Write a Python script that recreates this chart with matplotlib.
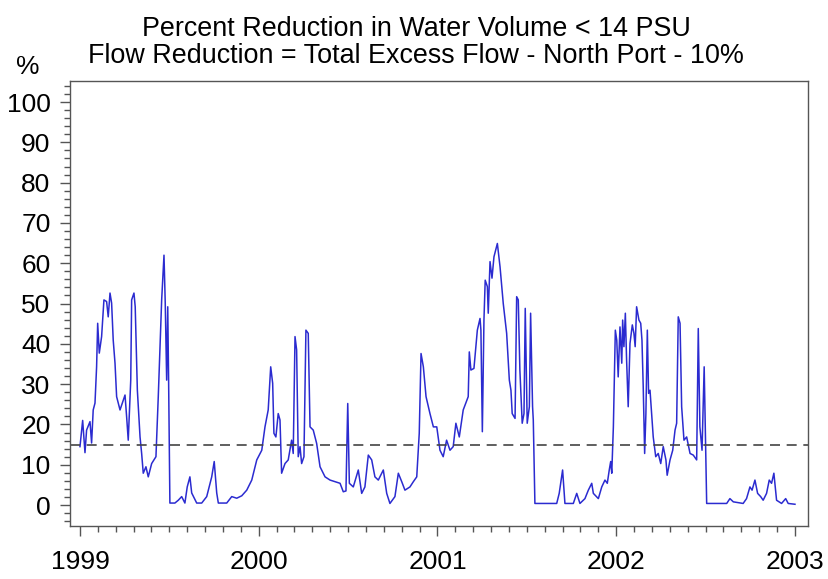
import matplotlib.pyplot as plt
import numpy as np
from matplotlib.ticker import MultipleLocator

plt.rcParams['font.family'] = ['Liberation Sans', 'DejaVu Sans']

# time in decimal years, value in percent
t = [1999.000, 1999.015, 1999.028, 1999.037, 1999.056, 1999.065, 1999.074, 1999.084,
     1999.093, 1999.099, 1999.108, 1999.121, 1999.134, 1999.149, 1999.158, 1999.168,
     1999.177, 1999.186, 1999.196, 1999.205, 1999.224, 1999.233, 1999.252, 1999.261,
     1999.270, 1999.284, 1999.289, 1999.302, 1999.309, 1999.321, 1999.336, 1999.345,
     1999.354, 1999.369, 1999.382, 1999.401, 1999.425, 1999.438, 1999.457, 1999.470,
     1999.477, 1999.485, 1999.491, 1999.496, 1999.503, 1999.531, 1999.550, 1999.569,
     1999.587, 1999.600, 1999.615, 1999.625, 1999.653, 1999.681, 1999.709, 1999.737,
     1999.751, 1999.765, 1999.774, 1999.821, 1999.849, 1999.877, 1999.905, 1999.933,
     1999.961, 1999.989,
     2000.017, 2000.035, 2000.053, 2000.067, 2000.078, 2000.085, 2000.096, 2000.109,
     2000.119, 2000.128, 2000.147, 2000.165, 2000.184, 2000.193, 2000.203, 2000.212,
     2000.221, 2000.231, 2000.240, 2000.253, 2000.264, 2000.277, 2000.287, 2000.305,
     2000.324, 2000.343, 2000.371, 2000.399, 2000.427, 2000.455, 2000.473, 2000.488,
     2000.498, 2000.507, 2000.529, 2000.557, 2000.576, 2000.594, 2000.613, 2000.632,
     2000.650, 2000.669, 2000.697, 2000.716, 2000.734, 2000.762, 2000.781, 2000.800,
     2000.818, 2000.846, 2000.865, 2000.884, 2000.898, 2000.908, 2000.921, 2000.936,
     2000.958, 2000.977, 2000.996,
     2001.014, 2001.032, 2001.051, 2001.070, 2001.088, 2001.103, 2001.122, 2001.144,
     2001.172, 2001.178, 2001.187, 2001.204, 2001.223, 2001.238, 2001.243, 2001.251,
     2001.260, 2001.267, 2001.279, 2001.284, 2001.294, 2001.305, 2001.316, 2001.335,
     2001.350, 2001.368, 2001.387, 2001.402, 2001.411, 2001.418, 2001.434, 2001.443,
     2001.452, 2001.461, 2001.474, 2001.484, 2001.491, 2001.502, 2001.514, 2001.521,
     2001.532, 2001.536, 2001.545, 2001.592, 2001.667, 2001.681, 2001.700, 2001.713,
     2001.760, 2001.779, 2001.797, 2001.825, 2001.844, 2001.863, 2001.872, 2001.900,
     2001.919, 2001.937, 2001.950, 2001.961, 2001.969, 2001.975, 2001.984, 2001.995,
     2002.003, 2002.011, 2002.021, 2002.031, 2002.036, 2002.043, 2002.051, 2002.058,
     2002.067, 2002.077, 2002.090, 2002.099, 2002.106, 2002.114, 2002.127, 2002.137,
     2002.144, 2002.151, 2002.159, 2002.166, 2002.174, 2002.181, 2002.189, 2002.198,
     2002.207, 2002.221, 2002.235, 2002.249, 2002.263, 2002.278, 2002.285, 2002.301,
     2002.316, 2002.329, 2002.338, 2002.347, 2002.357, 2002.366, 2002.379, 2002.394,
     2002.413, 2002.431, 2002.450, 2002.459, 2002.468, 2002.480, 2002.492, 2002.500,
     2002.506, 2002.562, 2002.618, 2002.636, 2002.655, 2002.710, 2002.729, 2002.748,
     2002.760, 2002.776, 2002.791, 2002.808, 2002.822, 2002.841, 2002.856, 2002.869,
     2002.882, 2002.897, 2002.925, 2002.948, 2002.962, 2003.000]

pct = [14.5, 21.0, 13.0, 18.6, 20.7, 15.4, 23.6, 25.3,
       34.3, 45.1, 37.7, 41.8, 50.9, 50.5, 46.7, 52.6,
       50.1, 40.9, 35.2, 26.9, 23.6, 24.8, 27.3, 21.9,
       16.1, 31.0, 50.9, 52.6, 49.2, 28.5, 16.9, 12.8,
       7.9, 9.5, 7.0, 10.3, 12.0, 26.9, 50.9, 62.0,
       50.1, 31.0, 49.2, 30.3, 0.5, 0.5, 1.2, 2.1,
       0.5, 4.5, 7.0, 3.0, 0.5, 0.5, 2.1, 7.0,
       10.8, 3.0, 0.5, 0.5, 2.1, 1.7, 2.3, 3.7,
       6.2, 11.2,
       13.6, 19.4, 23.6, 34.3, 30.2, 17.8, 16.9, 22.7,
       21.1, 7.9, 10.3, 11.2, 16.1, 12.8, 41.8, 38.5,
       12.0, 14.5, 10.3, 12.0, 43.4, 42.6, 19.4, 18.6,
       15.3, 9.5, 7.0, 6.2, 5.8, 5.4, 3.3, 3.5,
       25.2, 5.4, 4.5, 8.7, 2.9, 4.5, 12.4, 11.2,
       7.0, 6.2, 8.7, 2.9, 0.4, 2.1, 7.9, 5.8,
       3.7, 4.5, 5.8, 7.0, 17.8, 37.6, 34.3, 26.9,
       22.7, 19.4, 19.4,
       13.6, 12.0, 16.1, 13.6, 14.5, 20.3, 16.9, 23.6,
       26.9, 38.0, 33.5, 33.9, 43.4, 46.3, 43.4, 18.2,
       45.9, 55.8, 54.2, 47.6, 60.4, 56.3, 61.6, 64.9,
       59.1, 50.0, 42.6, 31.0, 28.5, 22.7, 21.5, 51.7,
       50.9, 33.5, 20.3, 22.7, 48.8, 20.3, 24.4, 47.6,
       24.4, 21.1, 0.4, 0.4, 0.4, 2.9, 8.7, 0.4,
       0.4, 2.9, 0.4, 1.6, 3.7, 5.4, 2.9, 1.6,
       4.5, 6.2, 5.4, 8.7, 10.8, 7.9, 19.4, 43.4,
       40.9, 31.8, 44.2, 35.2, 45.9, 39.3, 47.6, 36.0,
       24.4, 40.1, 44.7, 42.6, 39.3, 49.2, 45.9, 45.1,
       40.9, 29.4, 12.8, 22.7, 43.4, 27.7, 28.5, 22.7,
       16.9, 12.0, 12.8, 10.3, 14.5, 11.2, 7.4, 11.2,
       13.6, 18.6, 20.3, 46.7, 45.1, 24.4, 16.1, 16.9,
       12.8, 12.4, 11.2, 43.8, 19.4, 13.6, 34.3, 15.3,
       0.4, 0.4, 0.4, 1.6, 0.8, 0.4, 1.6, 4.5,
       3.7, 6.2, 2.9, 2.1, 1.2, 2.9, 6.2, 5.4,
       7.9, 1.2, 0.4, 1.6, 0.4, 0.2]

threshold = 15
years = [1999, 2000, 2001, 2002, 2003]

fig = plt.figure(figsize=(8.29, 5.79), dpi=100)
ax = fig.add_axes([0.0844, 0.0915, 0.8903, 0.7685])

ax.plot(t, pct, color='#2b2bd0', lw=1.1)
ax.axhline(threshold, color='#444444', lw=1.2, ls=(0, (6, 4)))

ax.set_xlim(1998.944, 2003.073)
ax.set_ylim(-5.2, 105.2)
ax.set_xticks(years)
ax.set_xticklabels([str(y) for y in years])
ax.xaxis.set_minor_locator(MultipleLocator(0.1))
ax.set_yticks(np.arange(0, 101, 10))
ax.yaxis.set_minor_locator(MultipleLocator(2))

ax.tick_params(axis='both', which='major', labelsize=19, length=7, width=1, color='#555555')
ax.tick_params(axis='y', which='major', pad=7)
ax.tick_params(axis='x', which='major', pad=10)
ax.tick_params(axis='both', which='minor', length=4, width=1, color='#555555')
for s in ax.spines.values():
    s.set_color('#555555')
    s.set_linewidth(1.0)

fig.text(0.502, 0.973, "Percent Reduction in Water Volume < 14 PSU\n"
         "Flow Reduction = Total Excess Flow - North Port - 10%",
         ha='center', va='top', fontsize=19.4, linespacing=1.05)
fig.text(0.019, 0.885, "%", fontsize=19, ha='left', va='center')

fig.savefig('out.png', dpi=100)
